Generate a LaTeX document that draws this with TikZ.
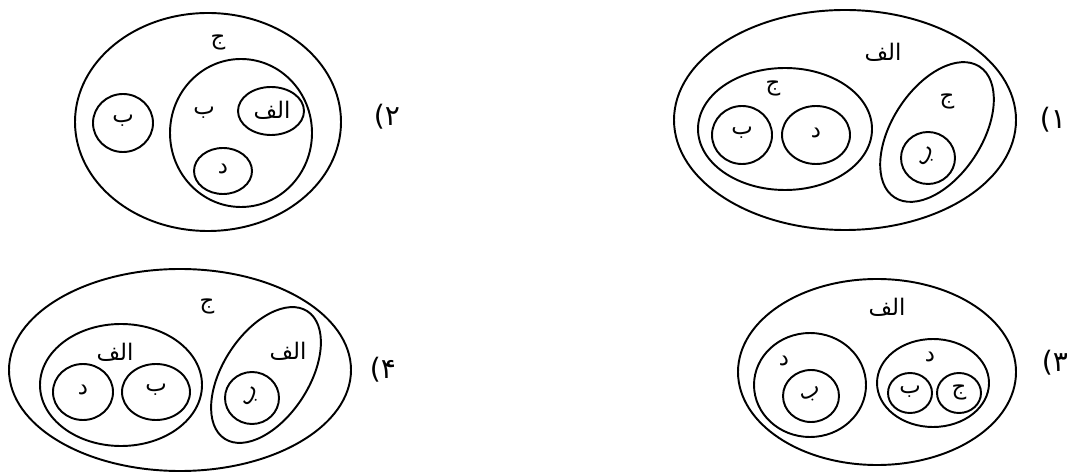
\documentclass[tikz,border=0pt]{standalone}
\usepackage{fontspec}
\TeXXeTstate=1
\newfontfamily\arabicfont[Script=Arabic]{DejaVu Sans}
\tikzset{
  setline/.style={draw=black, line width=1.1pt},
  lbl/.style={font=\arabicfont\fontsize{13}{15}\selectfont, inner sep=0pt},
  num/.style={font=\arabicfont\fontsize{16}{18}\selectfont, inner sep=0pt}
}
\begin{document}
\begin{tikzpicture}[x=0.02cm, y=-0.02cm]
\useasboundingbox (0,0) rectangle (1067,472);

% ---------- Figure 2 (top left) ----------
\draw[setline] (208,122) ellipse [x radius=133, y radius=109];
\draw[setline] (241,133) ellipse [x radius=71, y radius=74];
\draw[setline] (123,123) ellipse [x radius=30, y radius=29];
\draw[setline] (271,111) ellipse [x radius=33, y radius=24];
\draw[setline] (223,171) ellipse [x radius=29, y radius=23];
\node[lbl] (f2j) at (218,42) {\beginR ج\endR};
\node[lbl] (f2b1) at (123,121) {\beginR ب\endR};
\node[lbl] (f2b2) at (204,113) {\beginR ب\endR};
\node[lbl] (f2a) at (272,110) {\beginR الف\endR};
\node[lbl] (f2d) at (223,169) {\beginR د\endR};
\node[num] (n2) at (387,117) {۲)};

% ---------- Figure 1 (top right) ----------
\draw[setline] (845,120) ellipse [x radius=171, y radius=110];
\draw[setline] (785,129) ellipse [x radius=87, y radius=61];
\draw[setline] (742,135) ellipse [x radius=30, y radius=29];
\draw[setline] (816,135) ellipse [x radius=34, y radius=29];
\draw[setline, rotate around={57:(937,132)}] (937,132) ellipse [x radius=78, y radius=45];
\draw[setline] (928,158) ellipse [x radius=27, y radius=26];
\node[lbl] (f1a) at (883,52) {\beginR الف\endR};
\node[lbl] (f1j1) at (773,88) {\beginR ج\endR};
\node[lbl] (f1b) at (742,133) {\beginR ب\endR};
\node[lbl] (f1d) at (816,133) {\beginR د\endR};
\node[lbl] (f1j2) at (947,101) {\beginR ج\endR};
\node[lbl, rotate=60] (f1b2) at (928,157) {\beginR ب\endR};
\node[num] (n1) at (1053,120) {۱)};

% ---------- Figure 4 (bottom left) ----------
\draw[setline] (180,370) ellipse [x radius=171, y radius=101];
\draw[setline] (121,385) ellipse [x radius=81, y radius=61];
\draw[setline] (83,392) ellipse [x radius=30, y radius=28];
\draw[setline] (156,392) ellipse [x radius=34, y radius=28];
\draw[setline, rotate around={57:(266,375)}] (266,375) ellipse [x radius=76, y radius=43];
\draw[setline] (252,398) ellipse [x radius=27, y radius=26];
\node[lbl] (f4j) at (207,306) {\beginR ج\endR};
\node[lbl] (f4a1) at (115,352) {\beginR الف\endR};
\node[lbl] (f4d) at (83,390) {\beginR د\endR};
\node[lbl] (f4b) at (156,390) {\beginR ب\endR};
\node[lbl] (f4a2) at (288,351) {\beginR الف\endR};
\node[lbl, rotate=60] (f4b2) at (252,397) {\beginR ب\endR};
\node[num] (n4) at (383,370) {۴)};

% ---------- Figure 3 (bottom right) ----------
\draw[setline] (877,372) ellipse [x radius=139, y radius=93];
\draw[setline] (810,385) ellipse [x radius=56, y radius=52];
\draw[setline] (811,396) ellipse [x radius=28, y radius=26];
\draw[setline] (933,383) ellipse [x radius=56, y radius=44];
\draw[setline] (910,393) ellipse [x radius=22, y radius=20];
\draw[setline] (959,393) ellipse [x radius=22, y radius=20];
\node[lbl] (f3a) at (887,307) {\beginR الف\endR};
\node[lbl] (f3d1) at (784,361) {\beginR د\endR};
\node[lbl, rotate=25] (f3b1) at (811,395) {\beginR ب\endR};
\node[lbl] (f3d2) at (930,357) {\beginR د\endR};
\node[lbl] (f3b2) at (910,392) {\beginR ب\endR};
\node[lbl] (f3j) at (959,392) {\beginR ج\endR};
\node[num] (n3) at (1055,363) {۳)};
\end{tikzpicture}
\end{document}
